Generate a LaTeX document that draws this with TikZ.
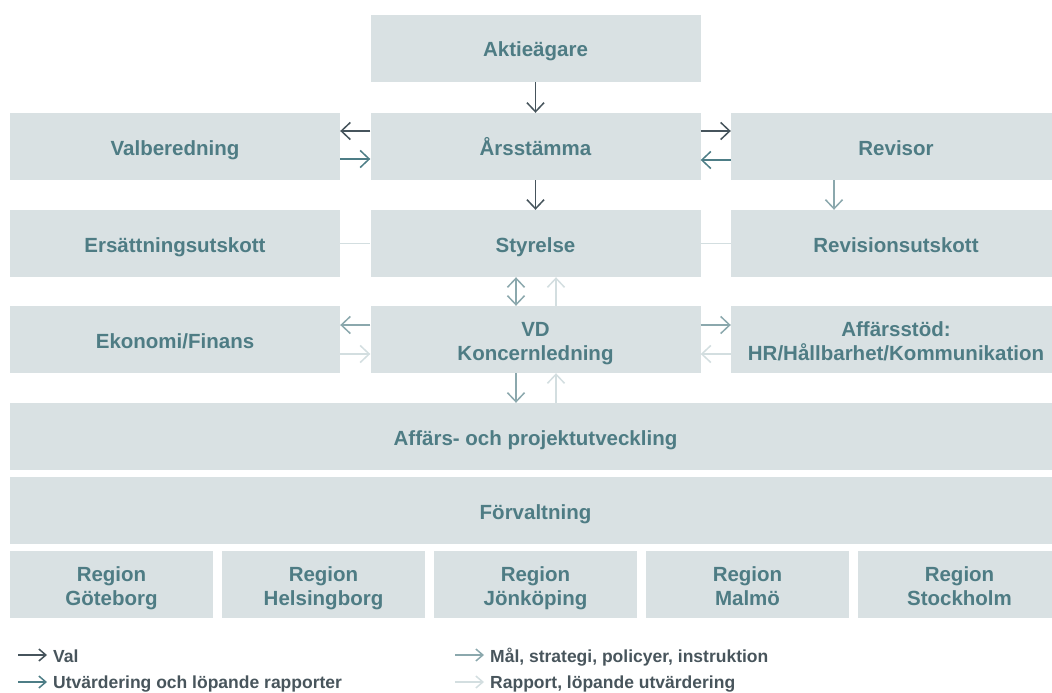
\documentclass[tikz,border=0pt]{standalone}
\usepackage{fontspec}
\setmainfont{Liberation Sans}
\usepackage{tikz}
\usetikzlibrary{arrows.meta, positioning}
\definecolor{boxfill}{HTML}{D9E1E3}
\definecolor{boxtext}{HTML}{4E7C84}
\definecolor{valcol}{HTML}{46545C}
\definecolor{utvcol}{HTML}{4D7D86}
\definecolor{malcol}{HTML}{8BA8AD}
\definecolor{rapcol}{HTML}{D3DEE0}
\definecolor{legtext}{HTML}{48555C}
\tikzstyle{pil} = [line width=1.5pt, -{Straight Barb[length=9pt,width=17pt]}]
\tikzstyle{legpil} = [line width=1.5pt, -{Straight Barb[length=7pt,width=12pt]}]
\newcommand{\boxstrut}{\rule[-4.5pt]{0pt}{26pt}}

\begin{document}
\begin{tikzpicture}
	[x=1pt, y=-1pt,
	box/.style={rectangle, fill=boxfill, text=boxtext, inner sep=0pt, minimum height=67pt,
		align=center, font=\bfseries\fontsize{20.5}{24}\selectfont,
		execute at begin node=\boxstrut, execute at end node=\boxstrut},
	twoline/.style={execute at begin node=\rule{0pt}{46pt}},
	col/.style={box, minimum width=330pt},
	wide/.style={box, minimum width=1051pt},
	region/.style={box, twoline, minimum width=203pt},
	legtxt/.style={anchor=base west, inner sep=0pt, text=legtext, font=\bfseries\fontsize{17.5}{20}\selectfont}]
	\useasboundingbox (0,0) rectangle (1052,693);
	\clip (0,0) rectangle (1052,693);

	\node[col] (akt) at (535.5, 48.5) {Aktieägare};

	\node[col] (val) at (175, 146.5) {Valberedning};
	\node[col] (ars) at (535.5, 146.5) {Årsstämma};
	\node[col] (rev) at (896, 146.5) {Revisor};

	\node[col] (ers) at (175, 243.5) {Ersättningsutskott};
	\node[col] (sty) at (535.5, 243.5) {Styrelse};
	\node[col] (revu) at (896, 243.5) {Revisionsutskott};

	\node[col] (eko) at (175, 339.5) {Ekonomi/Finans};
	\node[col, twoline] (vd) at (535.5, 339.5) {VD\\Koncernledning};
	\node[col, twoline] (aff) at (896, 339.5) {Affärsstöd:\\HR/Hållbarhet/Kommunikation};

	\node[wide] (aps) at (535.5, 436.5) {Affärs- och projektutveckling};
	\node[wide] (forv) at (535.5, 510.5) {Förvaltning};

	\node[region] (gbg) at (111.5, 584.5) {Region\\Göteborg};
	\node[region] (hbg) at (323.5, 584.5) {Region\\Helsingborg};
	\node[region] (jkp) at (535.5, 584.5) {Region\\Jönköping};
	\node[region] (mmo) at (747.5, 584.5) {Region\\Malmö};
	\node[region] (sthlm) at (959.5, 584.5) {Region\\Stockholm};

	% val
	\draw[pil, valcol] (akt) -- (ars);
	\draw[pil, valcol] (ars) -- (sty);
	\draw[pil, valcol] ([yshift=15.5pt]ars.west) -- ([yshift=15.5pt]val.east);
	\draw[pil, valcol] ([yshift=15.5pt]ars.east) -- ([yshift=15.5pt]rev.west);

	% utvardering
	\draw[pil, utvcol] ([yshift=-12.5pt]val.east) -- ([yshift=-12.5pt]ars.west);
	\draw[pil, utvcol] ([yshift=-13.5pt]rev.west) -- ([yshift=-13.5pt]ars.east);

	% mal, strategi
	\draw[pil, malcol] ([xshift=-62pt]rev.south) -- ([xshift=-62pt]revu.north);
	\draw[pil, malcol, {Straight Barb[length=9pt,width=17pt]}-{Straight Barb[length=9pt,width=17pt]}]
		([xshift=-19.5pt]sty.south) -- ([xshift=-19.5pt]vd.north);
	\draw[pil, malcol] ([yshift=14.5pt]vd.west) -- ([yshift=14.5pt]eko.east);
	\draw[pil, malcol] ([yshift=14.5pt]vd.east) -- ([yshift=14.5pt]aff.west);
	\draw[pil, malcol] ([xshift=-19.5pt]vd.south) -- ([xshift=-19.5pt]aps.north);

	% rapport
	\draw[line width=1.5pt, rapcol] (ers) -- (sty);
	\draw[line width=1.5pt, rapcol] (sty) -- (revu);
	\draw[pil, rapcol] ([xshift=20.5pt]vd.north) -- ([xshift=20.5pt]sty.south);
	\draw[pil, rapcol] ([yshift=-14.5pt]eko.east) -- ([yshift=-14.5pt]vd.west);
	\draw[pil, rapcol] ([yshift=-14.5pt]aff.west) -- ([yshift=-14.5pt]vd.east);
	\draw[pil, rapcol] ([xshift=20.5pt]aps.north) -- ([xshift=20.5pt]vd.south);

	% legend
	\coordinate (lv0) at (18, 655);
	\coordinate (lv1) at (47, 655);
	\coordinate (lu0) at (18, 682);
	\coordinate (lu1) at (47, 682);
	\coordinate (lm0) at (455, 655);
	\coordinate (lm1) at (484, 655);
	\coordinate (lr0) at (455, 682);
	\coordinate (lr1) at (484, 682);
	\draw[legpil, valcol] (lv0) -- (lv1);
	\draw[legpil, utvcol] (lu0) -- (lu1);
	\draw[legpil, malcol] (lm0) -- (lm1);
	\draw[legpil, rapcol] (lr0) -- (lr1);
	\node[legtxt] (lval) at (53, 662) {Val};
	\node[legtxt] (lutv) at (53, 688) {Utvärdering och löpande rapporter};
	\node[legtxt] (lmal) at (490, 662) {Mål, strategi, policyer, instruktion};
	\node[legtxt] (lrap) at (490, 688) {Rapport, löpande utvärdering};
\end{tikzpicture}
\end{document}
